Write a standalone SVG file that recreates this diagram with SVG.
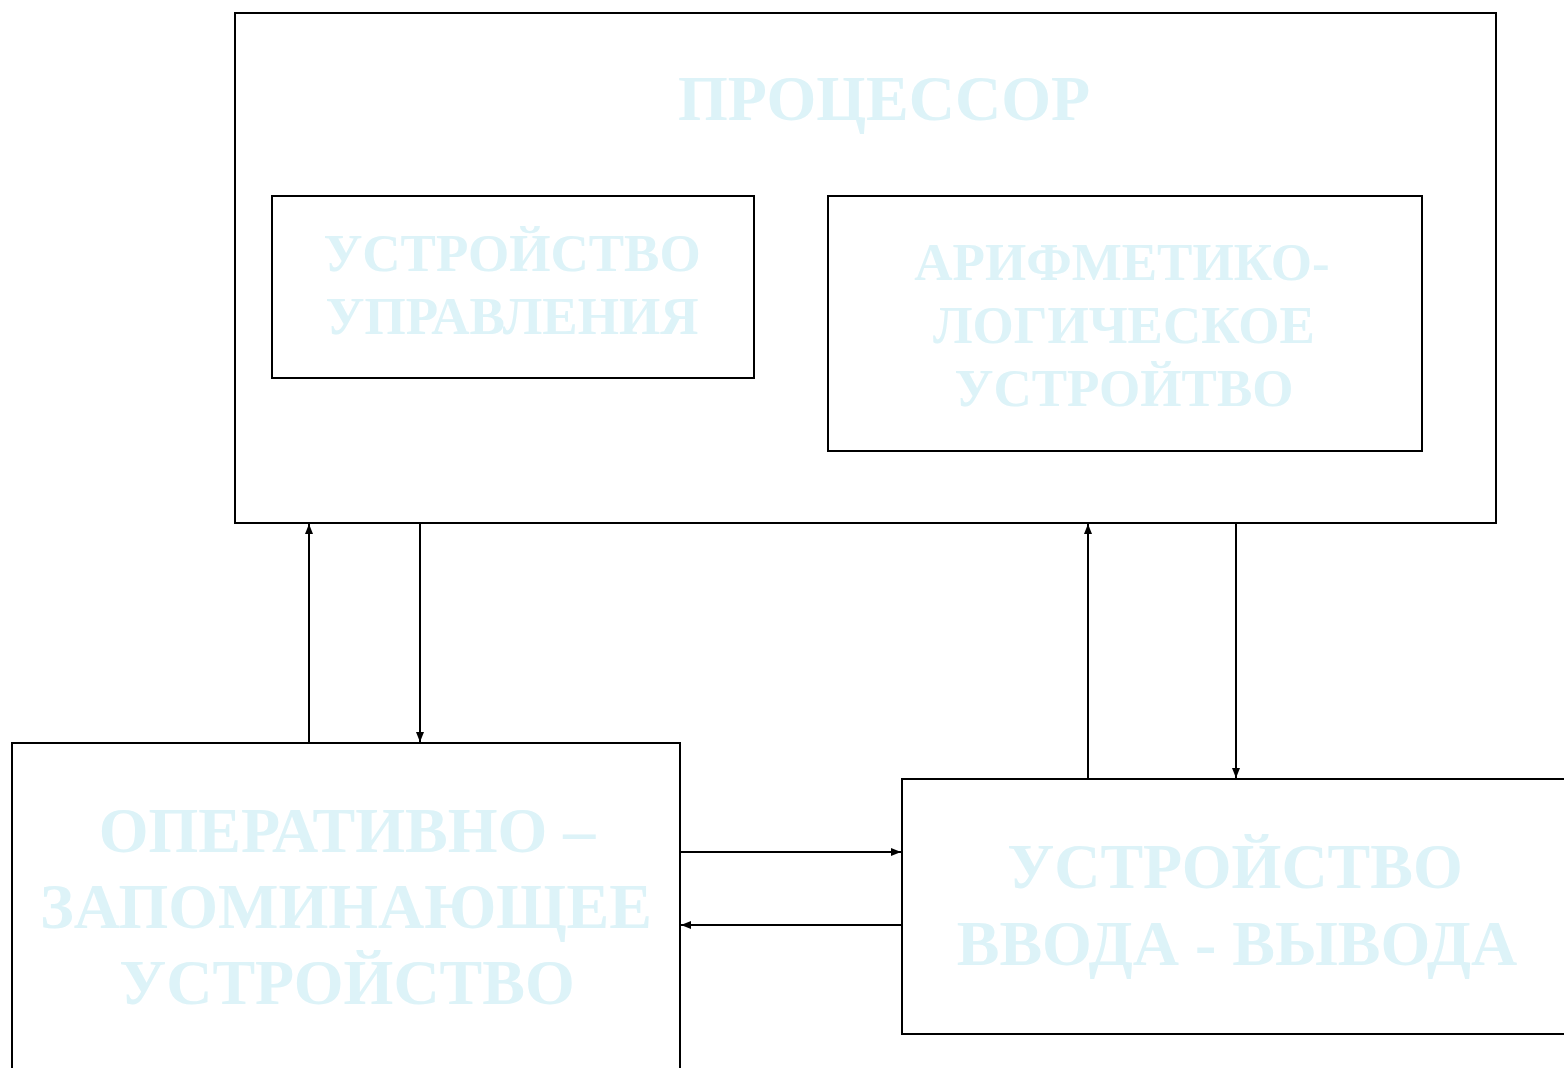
<svg xmlns="http://www.w3.org/2000/svg" width="1564" height="1068" viewBox="0 0 1564 1068">
<style>
.box{fill:none;stroke:#000;stroke-width:2}
.lbl{font-family:"Liberation Serif","Times New Roman",serif;font-weight:bold;fill:#DDF3F8;text-anchor:middle}
.con{stroke:#000;stroke-width:2;fill:none;marker-end:url(#arr)}
</style>
<defs>
<marker id="arr" viewBox="0 0 10 8" refX="10" refY="4" markerWidth="10" markerHeight="8" markerUnits="userSpaceOnUse" orient="auto">
<path d="M0,0 L10,4 L0,8 z" fill="#000"/>
</marker>
</defs>
<rect width="1564" height="1068" fill="#fff"/>
<g id="processor">
<rect class="box" x="235" y="13" width="1261" height="510"/>
<text class="lbl" x="884" y="120" font-size="64">ПРОЦЕССОР</text>
</g>
<g id="control-unit">
<rect class="box" x="272" y="196" width="482" height="182"/>
<text class="lbl" x="512" y="271" font-size="53">УСТРОЙСТВО</text>
<text class="lbl" x="512" y="334" font-size="53">УПРАВЛЕНИЯ</text>
</g>
<g id="alu">
<rect class="box" x="828" y="196" width="594" height="255"/>
<text class="lbl" x="1122" y="280" font-size="53">АРИФМЕТИКО-</text>
<text class="lbl" x="1124" y="343" font-size="53">ЛОГИЧЕСКОЕ</text>
<text class="lbl" x="1124" y="406" font-size="53">УСТРОЙТВО</text>
</g>
<g id="ram">
<rect class="box" x="12" y="743" width="668" height="340"/>
<text class="lbl" x="347" y="852" font-size="64">ОПЕРАТИВНО –</text>
<text class="lbl" x="346" y="928" font-size="64">ЗАПОМИНАЮЩЕЕ</text>
<text class="lbl" x="347" y="1004" font-size="64">УСТРОЙСТВО</text>
</g>
<g id="io">
<rect class="box" x="902" y="779" width="680" height="255"/>
<text class="lbl" x="1235" y="888" font-size="64">УСТРОЙСТВО</text>
<text class="lbl" x="1237" y="965" font-size="64">ВВОДА - ВЫВОДА</text>
</g>
<g id="connectors">
<line class="con" x1="309" y1="743" x2="309" y2="524"/>
<line class="con" x1="420" y1="523" x2="420" y2="742"/>
<line class="con" x1="1088" y1="779" x2="1088" y2="524"/>
<line class="con" x1="1236" y1="523" x2="1236" y2="778"/>
<line class="con" x1="680" y1="852" x2="901" y2="852"/>
<line class="con" x1="902" y1="925" x2="681" y2="925"/>
</g>
</svg>
